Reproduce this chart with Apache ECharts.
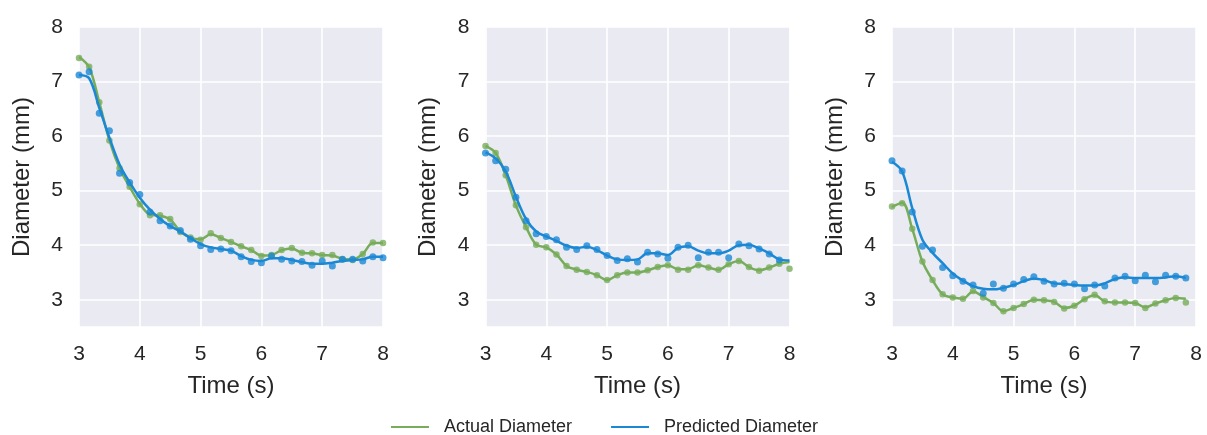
<!DOCTYPE html>
<html>
<head>
<meta charset="utf-8">
<script src="https://cdn.jsdelivr.net/npm/echarts@6.0.0/dist/echarts.min.js"></script>
<style>
  html, body { margin: 0; padding: 0; background: #fff; }
  #main { width: 1207px; height: 435px; }
</style>
</head>
<body>
<div id="main"></div>
<script>
// sample times (s)
const timeS = [3.0, 3.167, 3.333, 3.5, 3.667, 3.833, 4.0, 4.167, 4.333, 4.5, 4.667, 4.833,
  5.0, 5.167, 5.333, 5.5, 5.667, 5.833, 6.0, 6.167, 6.333, 6.5, 6.667, 6.833,
  7.0, 7.167, 7.333, 7.5, 7.667, 7.833, 8.0];
const xTicks = [3, 4, 5, 6, 7, 8];

// panel 1
const actual1 = [7.43, 7.27, 6.62, 5.92, 5.41, 5.07, 4.75, 4.55, 4.55, 4.48, 4.24, 4.14, 4.10, 4.22, 4.13, 4.06,
  3.98, 3.91, 3.80, 3.82, 3.91, 3.95, 3.86, 3.85, 3.82, 3.82, 3.74, 3.73, 3.84, 4.05, 4.04];
const actualFit1 = [7.45, 7.26, 6.62, 5.92, 5.41, 5.07, 4.76, 4.56, 4.54, 4.47, 4.25, 4.14, 4.11, 4.20, 4.13, 4.06,
  3.98, 3.91, 3.81, 3.82, 3.91, 3.94, 3.86, 3.85, 3.82, 3.81, 3.75, 3.74, 3.84, 4.04, 4.04];
const predicted1 = [7.12, 7.18, 6.42, 6.10, 5.32, 5.15, 4.93, 4.61, 4.45, 4.35, 4.27, 4.11, 3.99, 3.92, 3.93, 3.90,
  3.79, 3.70, 3.68, 3.80, 3.74, 3.71, 3.70, 3.63, 3.71, 3.62, 3.74, 3.74, 3.71, 3.79, 3.77];
const predictedFit1 = [7.12, 7.06, 6.52, 5.97, 5.48, 5.15, 4.87, 4.65, 4.48, 4.35, 4.25, 4.13, 4.02, 3.96, 3.93, 3.90,
  3.80, 3.73, 3.71, 3.76, 3.76, 3.73, 3.69, 3.66, 3.66, 3.68, 3.71, 3.73, 3.74, 3.79, 3.79];

// panel 2
const actual2 = [5.82, 5.69, 5.28, 4.73, 4.33, 4.01, 3.96, 3.83, 3.62, 3.55, 3.51, 3.45, 3.36, 3.45, 3.50, 3.50,
  3.54, 3.60, 3.63, 3.55, 3.55, 3.63, 3.59, 3.55, 3.65, 3.71, 3.60, 3.53, 3.59, 3.66, 3.57];
const actualFit2 = [5.82, 5.69, 5.28, 4.73, 4.33, 4.01, 3.96, 3.83, 3.62, 3.55, 3.51, 3.45, 3.36, 3.45, 3.50, 3.50,
  3.54, 3.60, 3.63, 3.56, 3.56, 3.63, 3.59, 3.55, 3.65, 3.71, 3.60, 3.54, 3.59, 3.66, 3.69];
const predicted2 = [5.69, 5.55, 5.39, 4.88, 4.45, 4.21, 4.16, 4.10, 3.96, 3.92, 3.99, 3.92, 3.81, 3.72, 3.75, 3.69,
  3.87, 3.84, 3.76, 3.96, 4.00, 3.77, 3.87, 3.87, 3.77, 4.02, 3.99, 3.93, 3.84, 3.73, null];
const predictedFit2 = [5.70, 5.59, 5.35, 4.89, 4.48, 4.25, 4.16, 4.08, 3.99, 3.95, 3.97, 3.91, 3.81, 3.74, 3.73, 3.74,
  3.85, 3.85, 3.82, 3.95, 3.98, 3.90, 3.85, 3.85, 3.90, 4.00, 4.01, 3.94, 3.85, 3.74, 3.72];

// panel 3
const actual3 = [4.71, 4.77, 4.30, 3.70, 3.36, 3.10, 3.04, 3.02, 3.16, 3.04, 2.94, 2.79, 2.85, 2.92, 3.00, 2.99,
  2.96, 2.84, 2.89, 3.01, 3.09, 2.97, 2.95, 2.95, 2.94, 2.85, 2.93, 2.99, 3.03, 2.95, null];
const actualFit3 = [4.70, 4.78, 4.30, 3.70, 3.36, 3.10, 3.04, 3.02, 3.15, 3.05, 2.94, 2.79, 2.85, 2.92, 3.00, 2.99,
  2.96, 2.85, 2.89, 3.01, 3.08, 2.97, 2.95, 2.95, 2.94, 2.86, 2.93, 2.99, 3.03, 3.02, null];
const predicted3 = [5.55, 5.36, 4.61, 3.98, 3.91, 3.59, 3.44, 3.34, 3.27, 3.12, 3.29, 3.21, 3.29, 3.37, 3.42, 3.34,
  3.29, 3.30, 3.29, 3.20, 3.27, 3.25, 3.40, 3.43, 3.35, 3.45, 3.33, 3.45, 3.43, 3.40, null];
const predictedFit3 = [5.53, 5.35, 4.68, 4.10, 3.86, 3.67, 3.48, 3.35, 3.25, 3.20, 3.19, 3.22, 3.27, 3.34, 3.39, 3.36,
  3.30, 3.29, 3.27, 3.26, 3.26, 3.30, 3.38, 3.41, 3.40, 3.40, 3.40, 3.41, 3.43, 3.40, null];

const panels = [
  { actual: actual1, actualFit: actualFit1, predicted: predicted1, predictedFit: predictedFit1 },
  { actual: actual2, actualFit: actualFit2, predicted: predicted2, predictedFit: predictedFit2 },
  { actual: actual3, actualFit: actualFit3, predicted: predicted3, predictedFit: predictedFit3 }
];

const GREEN = '#77ad5a';
const BLUE = '#1a88d4';
const TEXT = '#262626';
const FONT = 'Liberation Sans, Arial, sans-serif';
const gridLefts = [79, 485.5, 892];

function pairs(vals) {
  // [time, value] pairs, skipping missing samples
  return timeS.map((t, i) => [t, vals[i]]).filter(p => p[1] != null);
}

const grids = [], xAxes = [], yAxes = [], series = [];
panels.forEach((p, k) => {
  grids.push({ left: gridLefts[k], top: 27, width: 304, height: 300, show: true,
    backgroundColor: '#eaeaf2', borderWidth: 0 });
  xAxes.push({
    gridIndex: k, type: 'value', min: 3, max: 8, interval: 1,
    name: 'Time (s)', nameLocation: 'middle', nameGap: 47,
    nameTextStyle: { fontSize: 24, color: TEXT, fontFamily: FONT },
    axisLine: { show: false }, axisTick: { show: false },
    axisLabel: { fontSize: 21, color: TEXT, fontFamily: FONT, margin: 17,
      formatter: v => xTicks.includes(v) ? String(v) : '' },
    splitLine: { show: true, lineStyle: { color: '#ffffff', width: 1.6 } }
  });
  yAxes.push({
    gridIndex: k, type: 'value', min: 2.5, max: 8, splitNumber: 5,
    name: 'Diameter (mm)', nameLocation: 'middle', nameGap: 45,
    nameTextStyle: { fontSize: 24, color: TEXT, fontFamily: FONT },
    axisLine: { show: false }, axisTick: { show: false },
    axisLabel: { fontSize: 21, color: TEXT, fontFamily: FONT, margin: 16,
      formatter: v => Number.isInteger(v) ? String(v) : '' },
    splitLine: { show: true, lineStyle: { color: '#ffffff', width: 1.6 } }
  });
  series.push(
    { name: 'Actual Diameter', type: 'line', xAxisIndex: k, yAxisIndex: k, data: pairs(p.actualFit),
      smooth: 0.35, showSymbol: false, color: GREEN, lineStyle: { width: 2.5, color: GREEN }, z: 2 },
    { name: 'Actual samples', type: 'scatter', xAxisIndex: k, yAxisIndex: k, data: pairs(p.actual),
      symbolSize: 6.5, itemStyle: { color: GREEN }, z: 3 },
    { name: 'Predicted Diameter', type: 'line', xAxisIndex: k, yAxisIndex: k, data: pairs(p.predictedFit),
      smooth: 0.35, showSymbol: false, color: BLUE, lineStyle: { width: 2.5, color: BLUE }, z: 4 },
    { name: 'Predicted samples', type: 'scatter', xAxisIndex: k, yAxisIndex: k, data: pairs(p.predicted),
      symbolSize: 7, itemStyle: { color: BLUE }, z: 5 }
  );
});

const chart = echarts.init(document.getElementById('main'), null, { renderer: 'canvas' });
chart.setOption({
  animation: false,
  backgroundColor: '#ffffff',
  grid: grids,
  xAxis: xAxes,
  yAxis: yAxes,
  legend: {
    data: ['Actual Diameter', 'Predicted Diameter'],
    left: 386, top: 413,
    icon: 'rect', itemWidth: 38, itemHeight: 2, itemGap: 39,
    textStyle: { fontSize: 18, color: TEXT, fontFamily: FONT, padding: [0, 0, 0, 10] }
  },
  series: series
});
</script>
</body>
</html>
